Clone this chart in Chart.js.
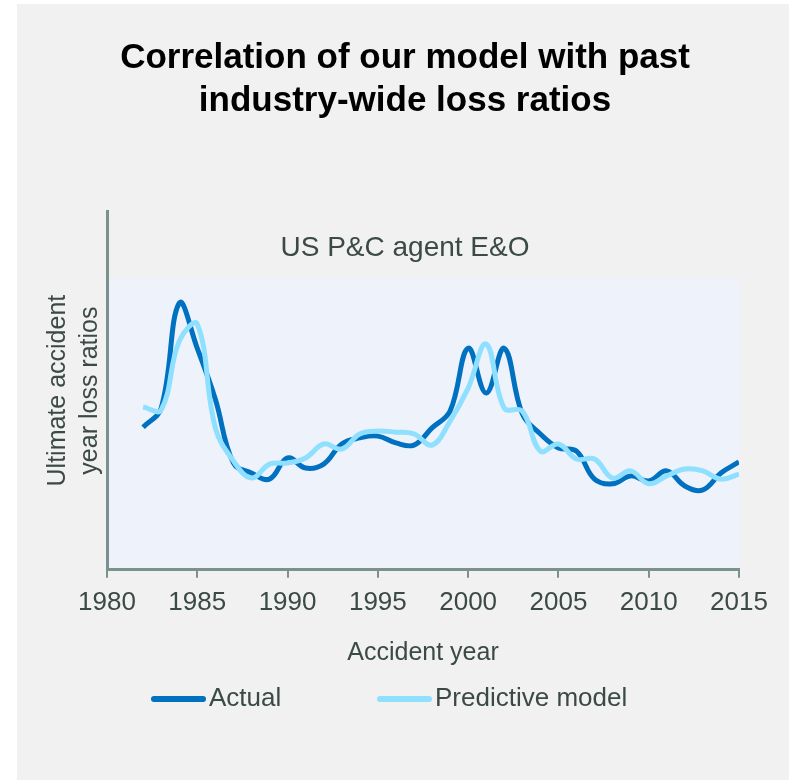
<!DOCTYPE html>
<html>
<head>
<meta charset="utf-8">
<title>Loss ratio model</title>
<script src="https://cdn.jsdelivr.net/npm/chart.js@4.4.1/dist/chart.umd.min.js"></script>
<style>
  html, body { margin: 0; padding: 0; background: #fff; }
  #panel { position: absolute; left: 17px; top: 4px; width: 772px; height: 776px; background: #f1f1f1; }
  #panel canvas { display: block; }
</style>
</head>
<body>
<div id="panel"><canvas id="lossChart" width="772" height="776"></canvas></div>
<script>
// accident years and the two loss ratio series (index units, no scale shown)
const years = [1982, 1983, 1984, 1985, 1986, 1987, 1988, 1989, 1990, 1991, 1992,
  1993, 1994, 1995, 1996, 1997, 1998, 1999, 2000, 2001, 2002, 2003, 2004,
  2005, 2006, 2007, 2008, 2009, 2010, 2011, 2012, 2013, 2014, 2015];
const actual = [39.8, 45.1, 74.4, 61.8, 47.6, 29.8, 27.0, 25.3, 31.2, 28.4, 29.5,
  35.1, 36.8, 37.3, 35.4, 34.8, 39.6, 44.3, 61.8, 49.3, 61.8, 43.5, 37.9,
  34.0, 33.1, 25.3, 24.0, 26.2, 24.8, 27.6, 23.4, 22.3, 27.0, 30.1];
const predictive = [45.4, 44.6, 63.8, 68.5, 39.6, 30.4, 25.6, 29.5, 29.8, 31.2, 35.1,
  33.7, 37.9, 38.7, 38.4, 37.9, 34.8, 41.5, 50.7, 63.0, 45.1, 44.3, 33.1,
  35.1, 30.9, 30.9, 25.6, 27.6, 24.0, 26.2, 28.1, 27.6, 25.3, 26.7];
const xTicks = [1980, 1985, 1990, 1995, 2000, 2005, 2010, 2015];

const textColor = '#3b4a46';
const axisColor = '#7b918b';
const shadeTop = 81.3;

const toPoints = (vals) => vals.map((v, i) => ({ x: years[i], y: v }));

// light panel behind the plotted lines
const plotShade = {
  id: 'plotShade',
  beforeDraw(chart) {
    const { ctx, chartArea, scales } = chart;
    const top = scales.y.getPixelForValue(shadeTop);
    ctx.save();
    ctx.fillStyle = '#eef2fa';
    ctx.fillRect(chartArea.left, top, chartArea.right - chartArea.left, chartArea.bottom - top - 2);
    ctx.restore();
  }
};

// chart caption inside the plot and the legend row at the bottom
const extras = {
  id: 'extras',
  afterDraw(chart) {
    const ctx = chart.ctx;
    ctx.save();
    ctx.fillStyle = textColor;
    ctx.font = '28px "Liberation Sans", Arial, sans-serif';
    ctx.textAlign = 'center';
    ctx.textBaseline = 'middle';
    ctx.fillText('US P&C agent E&O', chart.width / 2 + 2, chart.chartArea.top + 37);

    const items = [{ ds: chart.data.datasets[0], x: 134 }, { ds: chart.data.datasets[1], x: 360 }];
    const y = 695;
    items.forEach(({ ds, x }) => {
      ctx.strokeStyle = ds.borderColor;
      ctx.lineWidth = 6;
      ctx.lineCap = 'round';
      ctx.beginPath();
      ctx.moveTo(x + 3, y);
      ctx.lineTo(x + 52, y);
      ctx.stroke();
      ctx.fillStyle = textColor;
      ctx.font = '26px "Liberation Sans", Arial, sans-serif';
      ctx.textAlign = 'left';
      ctx.textBaseline = 'middle';
      ctx.fillText(ds.label, x + 58, y);
    });
    ctx.restore();
  }
};

new Chart(document.getElementById('lossChart'), {
  type: 'line',
  data: {
    datasets: [
      {
        label: 'Actual',
        data: toPoints(actual),
        borderColor: '#0070c0',
        borderWidth: 5,
        pointRadius: 0,
        tension: 0.4,
        order: 1
      },
      {
        label: 'Predictive model',
        data: toPoints(predictive),
        borderColor: '#8fe0ff',
        borderWidth: 5,
        pointRadius: 0,
        tension: 0.4,
        order: 0
      }
    ]
  },
  options: {
    responsive: false,
    animation: false,
    layout: { padding: { left: 54, right: 50, bottom: 112 } },
    plugins: {
      legend: { display: false },
      tooltip: { enabled: false },
      title: {
        display: true,
        text: ['Correlation of our model with past', 'industry-wide loss ratios'],
        color: '#000',
        font: { family: '"Liberation Sans", Arial, sans-serif', size: 35, weight: 'bold', lineHeight: 1.22 },
        padding: { top: 33, bottom: 89 }
      }
    },
    scales: {
      x: {
        type: 'linear',
        min: 1980,
        max: 2015,
        afterBuildTicks: (scale) => { scale.ticks = xTicks.map(v => ({ value: v })); },
        ticks: {
          color: textColor,
          font: { family: '"Liberation Sans Narrow", "Liberation Sans", sans-serif', size: 26 },
          padding: 9,
          maxRotation: 0,
          callback: (v) => String(v)
        },
        grid: { drawOnChartArea: false, drawTicks: true, tickLength: 8, color: axisColor, lineWidth: 2 },
        border: { color: axisColor, width: 3 },
        title: {
          display: true,
          text: 'Accident year',
          color: textColor,
          font: { family: '"Liberation Sans", Arial, sans-serif', size: 25 },
          padding: { top: 11, bottom: 0 }
        }
      },
      y: {
        min: 0,
        max: 100,
        // keep the axis narrow; its two-line title hangs out to the left
        afterFit: (scale) => { scale.width = 36; },
        ticks: { display: false },
        grid: { display: false },
        border: { color: axisColor, width: 3 },
        title: {
          display: true,
          text: ['Ultimate accident', 'year loss ratios'],
          color: textColor,
          font: { family: '"Liberation Sans", Arial, sans-serif', size: 25, lineHeight: 1.28 },
          padding: { top: -29, bottom: 0 }
        }
      }
    }
  },
  plugins: [plotShade, extras]
});
</script>
</body>
</html>
